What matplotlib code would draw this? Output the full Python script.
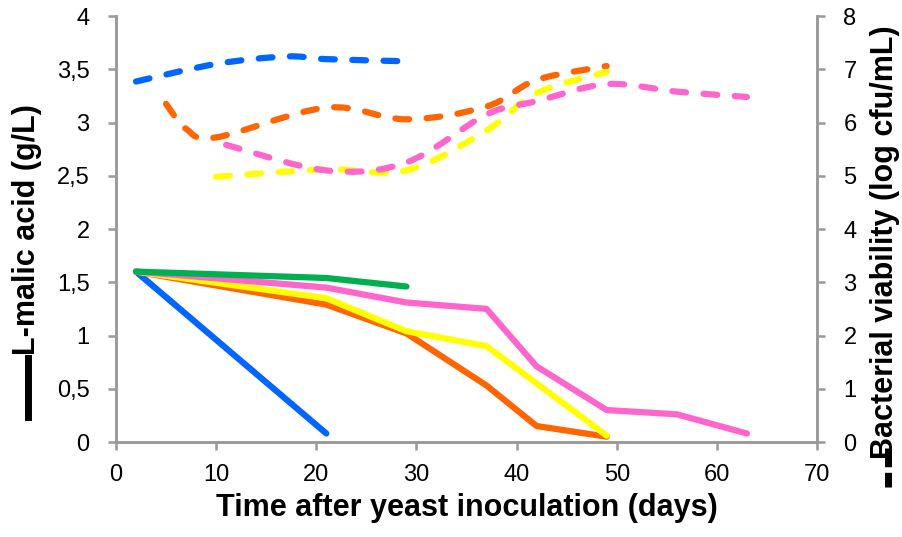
import numpy as np
import matplotlib
matplotlib.use('Agg')
import matplotlib.pyplot as plt
from matplotlib.path import Path
from matplotlib.patches import PathPatch
from matplotlib.ticker import FuncFormatter
from matplotlib.lines import Line2D

plt.rcParams['font.family'] = ['Liberation Sans', 'DejaVu Sans']

# L-malic acid (g/L), solid lines, left axis
malic_blue_x = [2, 21]
malic_blue_y = [1.60, 0.08]
malic_orange_x = [2, 21, 29, 37, 42, 49]
malic_orange_y = [1.60, 1.29, 1.02, 0.53, 0.15, 0.05]
malic_yellow_x = [2, 21, 29, 37, 49]
malic_yellow_y = [1.60, 1.35, 1.04, 0.90, 0.06]
malic_pink_x = [2, 21, 29, 37, 42, 49, 56, 63]
malic_pink_y = [1.60, 1.45, 1.31, 1.25, 0.71, 0.30, 0.26, 0.08]
malic_green_x = [2, 21, 29]
malic_green_y = [1.60, 1.54, 1.46]

# bacterial viability (log cfu/mL), dashed lines, right axis
via_blue_x = [2, 10, 17, 21, 29]
via_blue_y = [6.77, 7.10, 7.24, 7.19, 7.15]
via_orange_x = [5, 7, 10, 21, 29, 37, 42, 49]
via_orange_y = [6.35, 5.88, 5.72, 6.28, 6.06, 6.30, 6.80, 7.06]
via_yellow_x = [10, 21, 29, 37, 42, 49]
via_yellow_y = [4.98, 5.12, 5.10, 5.85, 6.55, 6.95]
via_pink_x = [11, 21, 29, 37, 42, 49, 56, 63]
via_pink_y = [5.58, 5.10, 5.25, 6.15, 6.40, 6.72, 6.58, 6.48]

c_blue = '#0066FF'
c_orange = '#FF6600'
c_yellow = '#FFFF00'
c_pink = '#FF66CC'
c_green = '#00B050'
grey = '#999999'


def smooth_path(xs, ys):
    # excel-like smoothed line (catmull-rom as cubic bezier)
    pts = np.column_stack([xs, ys]).astype(float)
    n = len(pts)
    verts = [pts[0]]
    codes = [Path.MOVETO]
    for i in range(n - 1):
        p0 = pts[i - 1] if i > 0 else pts[i]
        p1 = pts[i]
        p2 = pts[i + 1]
        p3 = pts[i + 2] if i + 2 < n else pts[i + 1]
        verts += [p1 + (p2 - p0) / 6, p2 - (p3 - p1) / 6, p2]
        codes += [Path.CURVE4] * 3
    return Path(verts, codes)


fig = plt.figure(figsize=(9.02, 5.37), dpi=100)
ax = fig.add_axes([0.1286, 0.1769, 0.7772, 0.7933])
ax2 = ax.twinx()

lw = 4.5
for xs, ys, c in [(malic_blue_x, malic_blue_y, c_blue),
                  (malic_orange_x, malic_orange_y, c_orange),
                  (malic_yellow_x, malic_yellow_y, c_yellow),
                  (malic_pink_x, malic_pink_y, c_pink),
                  (malic_green_x, malic_green_y, c_green)]:
    ax.plot(xs, ys, color=c, lw=lw, solid_capstyle='round', solid_joinstyle='round')

for xs, ys, c in [(via_blue_x, via_blue_y, c_blue),
                  (via_orange_x, via_orange_y, c_orange),
                  (via_yellow_x, via_yellow_y, c_yellow),
                  (via_pink_x, via_pink_y, c_pink)]:
    patch = PathPatch(smooth_path(xs, ys), fill=False, edgecolor=c, lw=lw,
                      linestyle=(0, (2.2, 2.8)), capstyle='round')
    ax2.add_patch(patch)

ax.set_xlim(0, 70)
ax.set_ylim(0, 4)
ax2.set_ylim(0, 8)
ax.set_xticks(range(0, 71, 10))
ax.set_yticks(np.arange(0, 4.01, 0.5))
ax2.set_yticks(range(0, 9))

comma = FuncFormatter(lambda v, p: ('%g' % v).replace('.', ','))
ax.yaxis.set_major_formatter(comma)

for a in (ax, ax2):
    for s in a.spines.values():
        s.set_color(grey)
        s.set_linewidth(1.8)
    a.spines['top'].set_visible(False)
    a.tick_params(colors=grey, labelcolor='black', labelsize=17,
                  length=6, width=1.8, direction='out', pad=13)
ax.tick_params(axis='x', pad=10)

ax.set_xlabel('Time after yeast inoculation (days)', fontsize=22,
              fontweight='bold', labelpad=5)

fig.text(0.03, 0.572, 'L-malic acid (g/L)', rotation=90, fontsize=22,
         fontweight='bold', ha='center', va='center')
fig.add_artist(Line2D([0.031, 0.031], [1 - 417 / 537, 1 - 358 / 537],
                      transform=fig.transFigure, color='black', lw=5))

fig.text(0.981, 0.549, 'Bacterial viability (log cfu/mL)', rotation=90,
         fontsize=22, fontweight='bold', ha='center', va='center')
fig.add_artist(Line2D([0.984, 0.984], [1 - 448 / 537, 1 - 487 / 537],
                      transform=fig.transFigure, color='black', lw=5,
                      linestyle=(0, (2.7, 0.8))))

fig.savefig('out.png', dpi=100)
